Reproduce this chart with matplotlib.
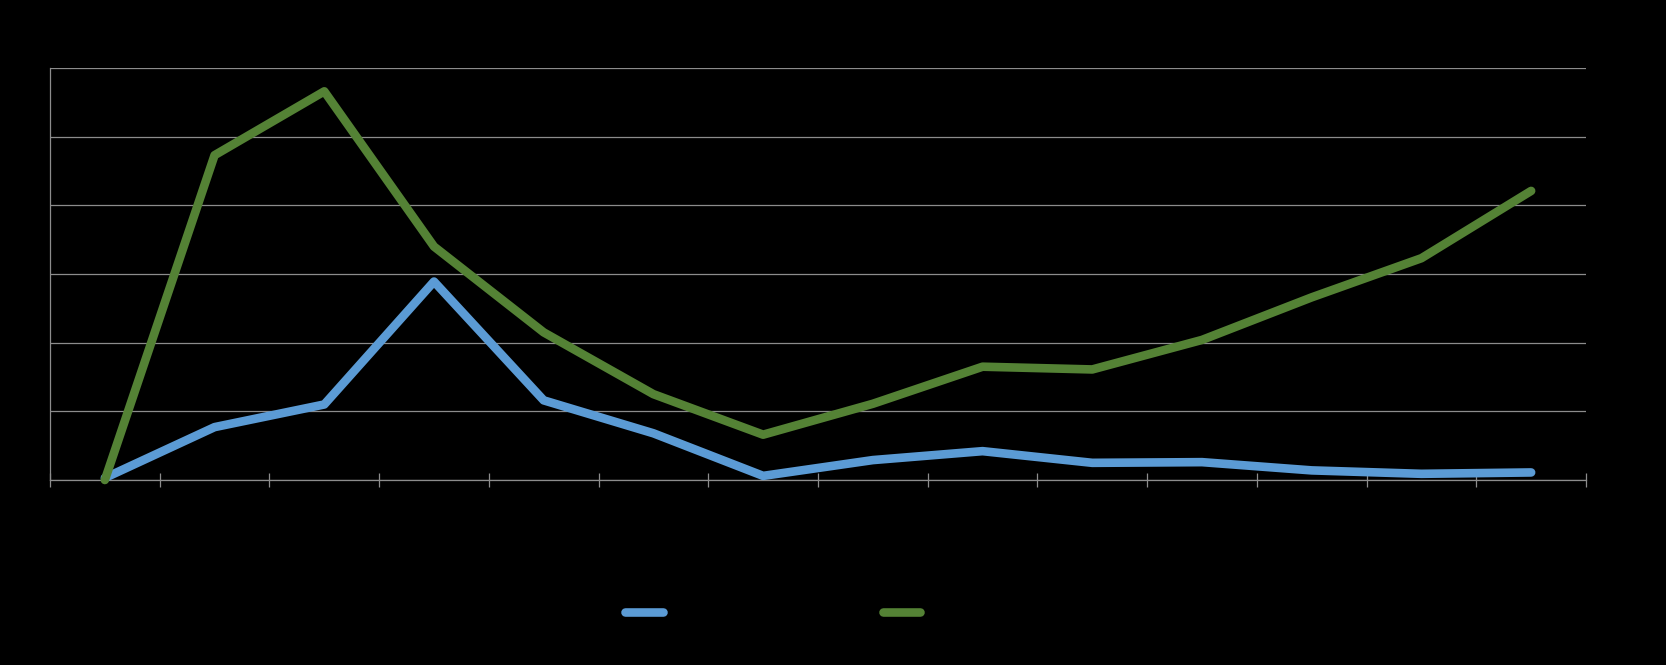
import matplotlib
matplotlib.use("Agg")
import matplotlib.pyplot as plt
import numpy as np

# categories (no labels visible in the chart)
categories = list(range(14))
blue_values = [0.03, 0.77, 1.10, 2.89, 1.16, 0.68, 0.06, 0.29, 0.42, 0.25, 0.26, 0.14, 0.09, 0.11]
green_values = [0.0, 4.73, 5.66, 3.40, 2.15, 1.25, 0.66, 1.11, 1.65, 1.61, 2.04, 2.66, 3.23, 4.21]

BLUE = "#5B9BD5"
GREEN = "#548235"
GRID = "#8C8C8C"

fig = plt.figure(figsize=(16.66, 6.65), dpi=100, facecolor="black")
ax = fig.add_axes([50 / 1666, 1 - 480 / 665, 1536 / 1666, 412 / 665])
ax.set_facecolor("black")

lw = 6.2
l1, = ax.plot(categories, blue_values, color=BLUE, lw=lw, solid_capstyle="round",
              solid_joinstyle="round", clip_on=False, zorder=3)
l2, = ax.plot(categories, green_values, color=GREEN, lw=lw, solid_capstyle="round",
              solid_joinstyle="round", clip_on=False, zorder=3)

ax.set_xlim(-0.5, 13.5)
ax.set_ylim(0, 6)
ax.set_yticks(np.arange(0, 7, 1))
ax.yaxis.grid(True, color=GRID, lw=0.9)
ax.set_axisbelow(True)
ax.tick_params(axis="y", length=0, labelleft=False)
ax.set_xticks(np.arange(-0.5, 14, 1))
ax.tick_params(axis="x", direction="inout", length=9.5, color=GRID, width=0.9, labelbottom=False)

for s in ["top", "right"]:
    ax.spines[s].set_visible(False)
ax.spines["left"].set_color(GRID)
ax.spines["bottom"].set_color(GRID)
ax.spines["left"].set_linewidth(0.9)
ax.spines["bottom"].set_linewidth(0.9)

leg = fig.legend([l1, l2], [" ", " "], ncol=2, loc="center",
                 bbox_to_anchor=(775 / 1666, 1 - 613 / 665),
                 frameon=False, handlelength=2.7, handletextpad=0.0,
                 columnspacing=15.5, fontsize=10)

fig.savefig("out.png", dpi=100, facecolor="black")
